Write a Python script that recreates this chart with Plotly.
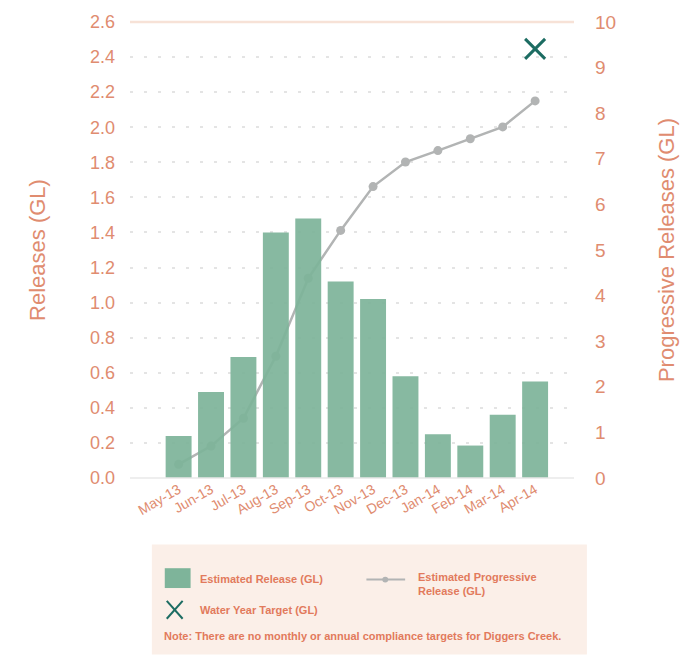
import plotly.graph_objects as go

# Monthly data for the 2013-14 water year
months = ["May-13", "Jun-13", "Jul-13", "Aug-13", "Sep-13", "Oct-13",
          "Nov-13", "Dec-13", "Jan-14", "Feb-14", "Mar-14", "Apr-14"]
monthly_release = [0.24, 0.49, 0.69, 1.40, 1.48, 1.12, 1.02, 0.58, 0.25, 0.185, 0.36, 0.55]
progressive_release = [0.30, 0.70, 1.31, 2.67, 4.38, 5.43, 6.39, 6.93, 7.18, 7.44, 7.70, 8.27]
target_month = ["Apr-14"]
water_year_target = [9.41]

left_ticks = [0.0, 0.2, 0.4, 0.6, 0.8, 1.0, 1.2, 1.4, 1.6, 1.8, 2.0, 2.2, 2.4, 2.6]
right_ticks = list(range(0, 11))

SALMON = "rgb(224,140,112)"
SALMON_BOLD = "rgb(226,122,92)"
BAR = "rgb(126,180,154)"
LINE = "rgb(178,180,180)"
TEAL = "rgb(28,108,98)"
FONT = "Liberation Sans"

W, H = 687, 656
ML, MR, MT, MB = 130, 110, 18, 178
PW, PH = W - ML - MR, H - MT - MB


def px(x):
    return (x - ML) / PW


def py(y):
    return (H - MB - y) / PH


fig = go.Figure()

# Cumulative release line (primary axis, drawn beneath the bars)
fig.add_trace(go.Scatter(
    x=months, y=progressive_release, mode="lines+markers",
    line=dict(color=LINE, width=2.5),
    marker=dict(color=LINE, size=9),
    yaxis="y", name="Estimated Progressive Release (GL)",
))
fig.add_trace(go.Scatter(
    x=target_month, y=water_year_target, mode="markers",
    marker=dict(symbol="x-thin", size=20, line=dict(color=TEAL, width=3)),
    yaxis="y", name="Water Year Target (GL)",
))
# Monthly release bars (overlay axis, left side)
fig.add_trace(go.Bar(
    x=months, y=monthly_release, marker=dict(color=BAR, line=dict(width=0)),
    opacity=0.93, yaxis="y2", name="Estimated Release (GL)",
))

fig.update_layout(
    width=W, height=H,
    margin=dict(l=ML, r=MR, t=MT, b=MB),
    paper_bgcolor="white", plot_bgcolor="white",
    showlegend=False,
    bargap=0.2,
    font=dict(family=FONT, color=SALMON),
    xaxis=dict(
        type="category", categoryorder="array", categoryarray=months,
        range=[-1.5, 12.2], tickangle=-30, ticks="",
        tickfont=dict(size=14, color=SALMON),
        showgrid=False, showline=False, zeroline=False,
    ),
    yaxis=dict(
        side="right", range=[0, 10], tickvals=right_ticks,
        tickfont=dict(size=19, color=SALMON), ticks="", ticklabelstandoff=20,
        showgrid=False, zeroline=False, showline=False,
        title=dict(text="Progressive Releases (GL)", font=dict(size=22, color=SALMON), standoff=43),
    ),
    yaxis2=dict(
        side="left", overlaying="y", range=[0, 2.6], tickvals=left_ticks,
        tickformat=".1f", tickfont=dict(size=18, color=SALMON), ticks="",
        ticklabelstandoff=14,
        showgrid=True, gridcolor="rgb(228,228,228)", griddash="3px,11px", gridwidth=2,
        zeroline=False, showline=False,
        title=dict(text="Releases (GL)", font=dict(size=22, color=SALMON), standoff=38),
    ),
)

shapes = [
    # top border line at 2.6 and baseline at 0
    dict(type="line", xref="paper", yref="paper", x0=0, x1=1, y0=1, y1=1,
         line=dict(color="rgb(247,226,215)", width=2.5)),
    dict(type="line", xref="paper", yref="paper", x0=0, x1=1, y0=0, y1=0,
         line=dict(color="rgb(232,232,232)", width=1.5)),
    # key panel
    dict(type="rect", xref="paper", yref="paper", x0=px(152), x1=px(590), y0=py(656), y1=py(545),
         fillcolor="rgb(251,239,232)", line=dict(width=0), layer="below"),
    dict(type="rect", xref="paper", yref="paper", x0=px(165), x1=px(191), y0=py(589), y1=py(569),
         fillcolor=BAR, line=dict(width=0)),
    dict(type="line", xref="paper", yref="paper", x0=px(368), x1=px(407), y0=py(580.5), y1=py(580.5),
         line=dict(color=LINE, width=2)),
    dict(type="circle", xref="paper", yref="paper", x0=px(384), x1=px(390), y0=py(583.5), y1=py(577.5),
         fillcolor=LINE, line=dict(width=0)),
    dict(type="line", xref="paper", yref="paper", x0=px(167), x1=px(183), y0=py(602), y1=py(620),
         line=dict(color=TEAL, width=2)),
    dict(type="line", xref="paper", yref="paper", x0=px(167), x1=px(183), y0=py(620), y1=py(602),
         line=dict(color=TEAL, width=2)),
]
fig.update_layout(shapes=shapes)

key_font = dict(family=FONT, size=11, color=SALMON_BOLD)
annotations = [
    dict(text="<b>Estimated Release (GL)</b>", x=px(198), y=py(580), xanchor="left", yanchor="middle"),
    dict(text="<b>Estimated Progressive<br>Release (GL)</b>", x=px(418), y=py(585), xanchor="left",
         yanchor="middle", align="left"),
    dict(text="<b>Water Year Target (GL)</b>", x=px(198), y=py(611.5), xanchor="left", yanchor="middle"),
    dict(text="<b>Note: There are no monthly or annual compliance targets for Diggers Creek.</b>",
         x=px(162), y=py(637), xanchor="left", yanchor="middle"),
]
for a in annotations:
    a.update(xref="paper", yref="paper", showarrow=False, font=key_font)
fig.update_layout(annotations=annotations)

fig.write_html("out.html")
